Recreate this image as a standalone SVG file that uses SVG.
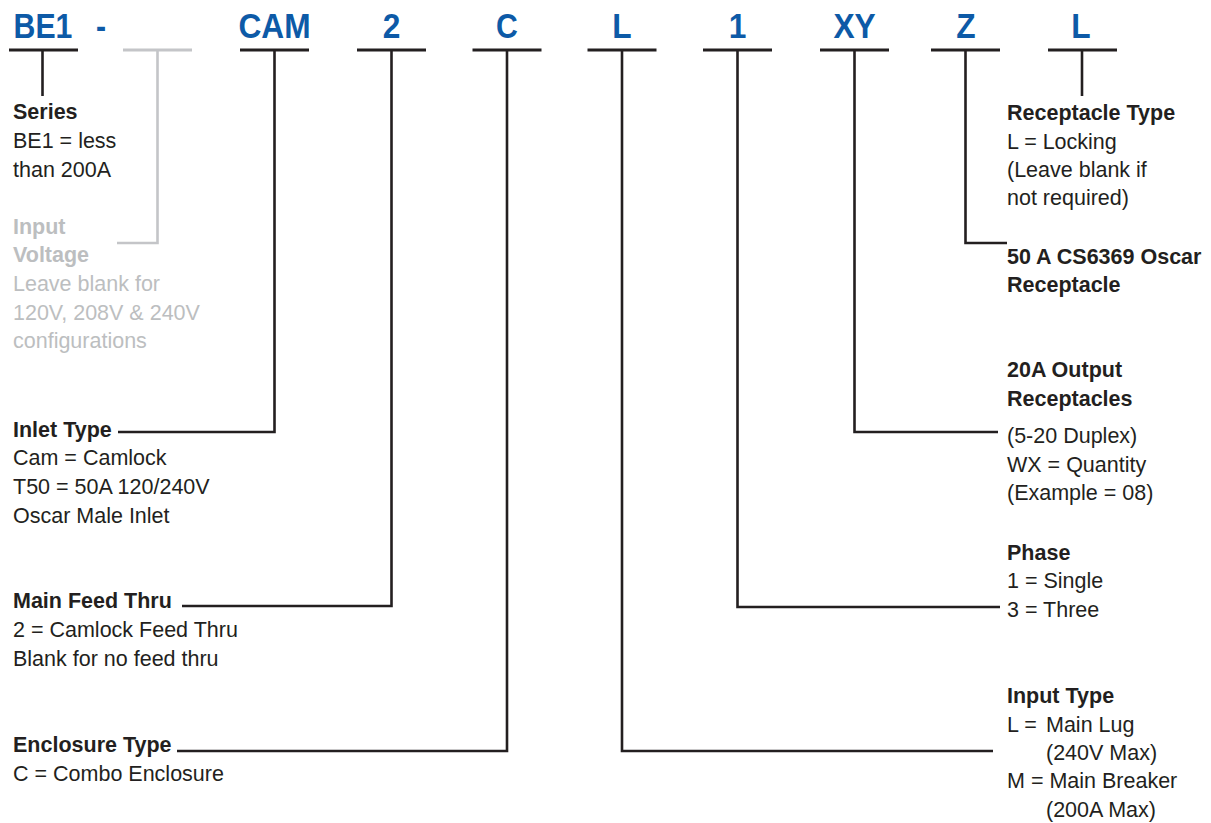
<svg xmlns="http://www.w3.org/2000/svg" width="1211" height="823" viewBox="0 0 1211 823">
  <style>
    .code { font-family: "Liberation Sans", Arial, sans-serif; font-weight: bold; font-size: 36px; fill: #0d5aa7; text-anchor: middle; }
    .bar { stroke: #231f20; stroke-width: 2.8; fill: none; }
    .bar.off { stroke: #c4c5c8; }
    .wire { stroke: #231f20; stroke-width: 2.6; fill: none; stroke-linejoin: miter; }
    .wire.off { stroke: #c4c5c8; }
    .lbl { font-family: "Liberation Sans", Arial, sans-serif; font-size: 21.5px; fill: #231f20; }
    .lbl .h { font-weight: bold; }
    .lbl.off { fill: #bcbec0; }
  </style>

  <!-- part-number segments: code letters over a short bar -->
  <g id="seg-series">
    <text class="code" transform="translate(43,38) scale(0.84,1)">BE1</text>
    <line class="bar" x1="9" y1="50" x2="78" y2="50"/>
  </g>
  <g id="seg-dash">
    <text class="code" transform="translate(101,38) scale(0.84,1)">-</text>
  </g>
  <g id="seg-voltage">
    <line class="bar off" x1="123" y1="50" x2="192" y2="50"/>
  </g>
  <g id="seg-inlet">
    <text class="code" transform="translate(274.5,38) scale(0.88,1)">CAM</text>
    <line class="bar" x1="240" y1="50" x2="309" y2="50"/>
  </g>
  <g id="seg-feed">
    <text class="code" transform="translate(391.5,38) scale(0.88,1)">2</text>
    <line class="bar" x1="357" y1="50" x2="426" y2="50"/>
  </g>
  <g id="seg-enclosure">
    <text class="code" transform="translate(507,38) scale(0.84,1)">C</text>
    <line class="bar" x1="472.5" y1="50" x2="541.5" y2="50"/>
  </g>
  <g id="seg-input">
    <text class="code" transform="translate(622,38) scale(0.88,1)">L</text>
    <line class="bar" x1="587.5" y1="50" x2="656.5" y2="50"/>
  </g>
  <g id="seg-phase">
    <text class="code" transform="translate(737.5,38) scale(0.88,1)">1</text>
    <line class="bar" x1="703" y1="50" x2="772" y2="50"/>
  </g>
  <g id="seg-outputs">
    <text class="code" transform="translate(854.5,38) scale(0.88,1)">XY</text>
    <line class="bar" x1="820" y1="50" x2="889" y2="50"/>
  </g>
  <g id="seg-oscar">
    <text class="code" transform="translate(966,38) scale(0.88,1)">Z</text>
    <line class="bar" x1="931" y1="50" x2="1000" y2="50"/>
  </g>
  <g id="seg-receptacle">
    <text class="code" transform="translate(1081,38) scale(0.88,1)">L</text>
    <line class="bar" x1="1048" y1="50" x2="1117" y2="50"/>
  </g>

  <!-- leader lines from each bar to its description -->
  <g id="connectors">
    <path class="wire" d="M42.5,50 V96"/>
    <path class="wire off" d="M157.5,50 V243 H117"/>
    <path class="wire" d="M274.5,50 V432 H118"/>
    <path class="wire" d="M391.5,50 V606 H182"/>
    <path class="wire" d="M507,50 V751 H177"/>
    <path class="wire" d="M622,50 V751 H993"/>
    <path class="wire" d="M737.5,50 V607 H1000"/>
    <path class="wire" d="M854.5,50 V432 H998"/>
    <path class="wire" d="M965.5,50 V243 H1007"/>
    <path class="wire" d="M1082,50 V96"/>
  </g>

  <!-- descriptions, left column -->
  <g id="desc-series">
    <text class="lbl" x="13" y="119"><tspan class="h">Series</tspan><tspan x="13" y="148">BE1 = less</tspan><tspan x="13" y="177">than 200A</tspan></text>
  </g>
  <g id="desc-voltage">
    <text class="lbl off" x="13" y="234"><tspan class="h">Input</tspan><tspan class="h" x="13" y="262">Voltage</tspan><tspan x="13" y="291">Leave blank for</tspan><tspan x="13" y="320">120V, 208V &amp; 240V</tspan><tspan x="13" y="348">configurations</tspan></text>
  </g>
  <g id="desc-inlet">
    <text class="lbl" x="13" y="437"><tspan class="h">Inlet Type</tspan><tspan x="13" y="465">Cam = Camlock</tspan><tspan x="13" y="494">T50 = 50A 120/240V</tspan><tspan x="13" y="523">Oscar Male Inlet</tspan></text>
  </g>
  <g id="desc-feed">
    <text class="lbl" x="13" y="608"><tspan class="h">Main Feed Thru</tspan><tspan x="13" y="637">2 = Camlock Feed Thru</tspan><tspan x="13" y="666">Blank for no feed thru</tspan></text>
  </g>
  <g id="desc-enclosure">
    <text class="lbl" x="13" y="752"><tspan class="h">Enclosure Type</tspan><tspan x="13" y="781">C = Combo Enclosure</tspan></text>
  </g>

  <!-- descriptions, right column -->
  <g id="desc-receptacle">
    <text class="lbl" x="1007" y="120"><tspan class="h">Receptacle Type</tspan><tspan x="1007" y="149">L = Locking</tspan><tspan x="1007" y="177">(Leave blank if</tspan><tspan x="1007" y="205">not required)</tspan></text>
  </g>
  <g id="desc-oscar">
    <text class="lbl" x="1007" y="264"><tspan class="h">50 A CS6369 Oscar</tspan><tspan class="h" x="1007" y="292">Receptacle</tspan></text>
  </g>
  <g id="desc-outputs">
    <text class="lbl" x="1007" y="377"><tspan class="h">20A Output</tspan><tspan class="h" x="1007" y="406">Receptacles</tspan><tspan x="1007" y="443">(5-20 Duplex)</tspan><tspan x="1007" y="472">WX = Quantity</tspan><tspan x="1007" y="500">(Example = 08)</tspan></text>
  </g>
  <g id="desc-phase">
    <text class="lbl" x="1007" y="560"><tspan class="h">Phase</tspan><tspan x="1007" y="588">1 = Single</tspan><tspan x="1007" y="617">3 = Three</tspan></text>
  </g>
  <g id="desc-input">
    <text class="lbl" x="1007" y="703"><tspan class="h">Input Type</tspan><tspan x="1007" y="732">L =</tspan><tspan x="1046" y="732">Main Lug</tspan><tspan x="1046" y="760">(240V Max)</tspan><tspan x="1007" y="788">M = Main Breaker</tspan><tspan x="1046" y="817">(200A Max)</tspan></text>
  </g>
</svg>
